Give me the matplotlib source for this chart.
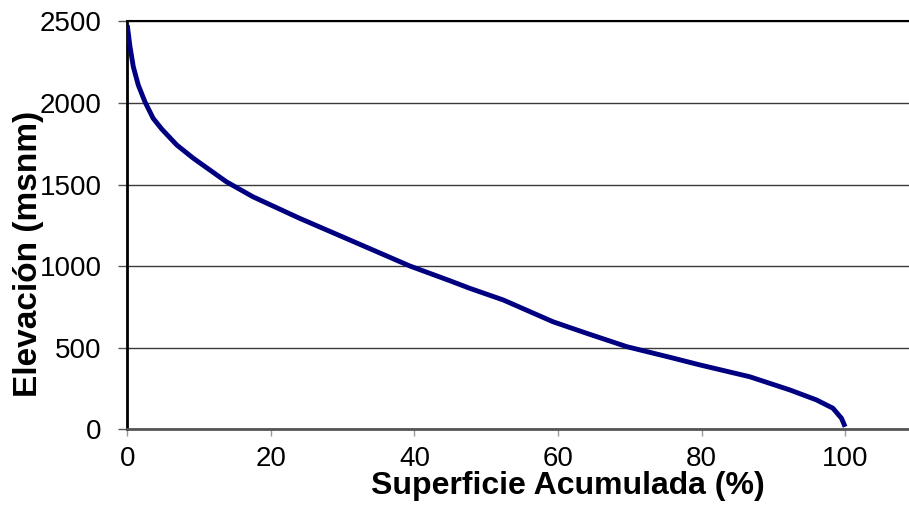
import matplotlib.pyplot as plt

# curva hipsometrica
superficie = [0.0, 0.38, 0.84, 1.53, 2.46, 3.6, 4.8, 6.9, 9.2, 11.5, 13.8, 17.5,
              24.0, 31.0, 39.4, 44.9, 47.7, 52.4, 59.3, 64.0, 69.6, 75.6,
              79.8, 86.7, 92.3, 96.0, 98.3, 99.5, 100.0]
elevacion = [2477, 2345, 2222, 2110, 2007, 1906, 1840, 1742, 1661, 1589, 1517, 1425,
             1293, 1160, 1000, 911, 864, 792, 659, 588, 506, 441,
             394, 322, 241, 180, 129, 67, 15]

x_ticks = [0, 20, 40, 60, 80, 100]
y_ticks = [0, 500, 1000, 1500, 2000, 2500]

plt.rcParams['font.family'] = ['Liberation Sans', 'DejaVu Sans']

fig = plt.figure(figsize=(9.09, 5.08), dpi=100)
ax = fig.add_axes([0.140, 0.155, 0.860, 0.803])

ax.plot(superficie, elevacion, color='#000080', lw=3.5, solid_capstyle='butt',
        solid_joinstyle='round', zorder=3)

ax.set_xlim(0, 108.9)
ax.set_ylim(0, 2500)
ax.set_xticks(x_ticks)
ax.set_yticks(y_ticks)
ax.grid(axis='y', color='#3a3a3a', lw=1)
ax.set_axisbelow(True)

ax.spines['right'].set_visible(False)
ax.spines['top'].set_color('black')
ax.spines['top'].set_linewidth(1.5)
ax.spines['left'].set_color('black')
ax.spines['left'].set_linewidth(2)
ax.spines['bottom'].set_color('#555555')
ax.spines['bottom'].set_linewidth(2)

ax.tick_params(axis='x', labelsize=20, length=5, width=1, color='#999999', pad=7)
ax.tick_params(axis='y', labelsize=20, length=6.5, width=1, color='#555555', pad=12)

ax.set_xlabel('Superficie Acumulada (%)', fontsize=23, fontweight='bold')
ax.set_ylabel('Elevación (msnm)', fontsize=24, fontweight='bold')
ax.xaxis.set_label_coords(0.563, -0.102)
ax.yaxis.set_label_coords(-0.1066, 0.43)

fig.savefig('out.png', dpi=100)
